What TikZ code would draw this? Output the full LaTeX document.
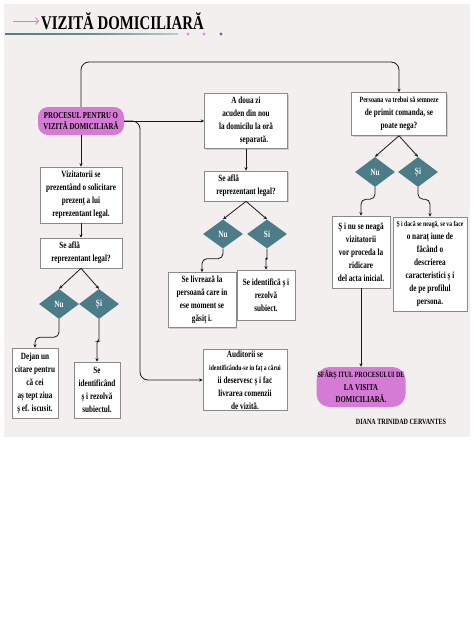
\documentclass[tikz,border=0pt]{standalone}
\usepackage{fontspec}
\setmainfont{Liberation Serif}[FakeStretch=0.76]
\usetikzlibrary{shapes.geometric,arrows.meta,shadows,calc}
\definecolor{bgc}{HTML}{F3EFEE}
\definecolor{pinkn}{HTML}{D57AD5}
\definecolor{teald}{HTML}{4B7C87}
\definecolor{boxl}{HTML}{8A8A8A}
\definecolor{lineA}{HTML}{4F7F80}
\definecolor{lineB}{HTML}{B9D0CC}
\definecolor{dotB}{HTML}{5A6E9A}
\begin{document}
\begin{tikzpicture}[x=1pt,y=-1pt,
  box/.style={draw=boxl, line width=0.6pt, fill=white, inner sep=1pt, align=center,
    font=\fontsize{9.5}{13}\selectfont\bfseries,
    drop shadow={shadow xshift=1pt, shadow yshift=-1pt, fill=black!25, opacity=0.7}},
  pillbox/.style={fill=pinkn, rounded corners=10pt, inner sep=1pt, align=center,
    font=\fontsize{9}{11.5}\selectfont\bfseries},
  choice/.style={diamond, fill=teald, minimum width=40pt, minimum height=30pt, inner sep=0pt,
    text=white, font=\fontsize{9.5}{9.5}\selectfont\bfseries},
  conn/.style={line width=0.8pt, draw=black!90},
  arr/.style={conn, -{Stealth[length=3.5pt,width=3.2pt]}}]
\useasboundingbox (0,0) rectangle (474,632);
\fill[bgc] (4,4) rectangle (470,437);

% title
\coordinate (ta) at (13,21);
\coordinate (tb) at (39,21);
\draw[pinkn, line width=0.8pt, -{Straight Barb[length=3pt,width=7pt]}] (ta) -- (tb);
\node[anchor=west, inner sep=0pt, font=\fontsize{19.5}{19.5}\selectfont\bfseries] (title) at (41,21) {VIZITĂ DOMICILIARĂ};
\shade[left color=lineA, right color=lineB, middle color=lineA!80!lineB] (5,33.3) rectangle (178,34.9);
\fill[pinkn!85] (188,34) circle (1.7);
\fill[pinkn!85] (204,34) circle (1.7);
\fill[dotB] (221,34) circle (1.7);

% left column
\node[pillbox, minimum width=86pt, minimum height=28pt] (start) at (81,121) {PROCESUL PENTRU O\\VIZITĂ DOMICILIARĂ};
\node[box, minimum width=82pt, minimum height=56pt] (b1) at (81,195) {Vizitatorii se\\prezentând o solicitare\\prezenț a lui\\reprezentant legal.};
\node[box, minimum width=82pt, minimum height=30pt, align=left] (b2) at (81,253) {\hspace*{8pt}Se află\\reprezentant legal?};
\node[choice] (nu1) at (59,304) {Nu};
\node[choice] (si1) at (99,304) {Și};
\node[box, minimum width=46pt, minimum height=70pt] (b3) at (35,383) {Dejan un\\citare pentru\\că cei\\aș tept ziua\\ș ef. iscusit.};
\node[box, minimum width=46pt, minimum height=56pt] (b4) at (97,390) {Se\\identificând\\ș i rezolvă\\subiectul.};

% middle column
\node[box, minimum width=83pt, minimum height=55pt] (m1) at (246,121) {A doua zi\\acuden din nou\\la domicilu la oră\\\hspace*{16pt}separată.};
\node[box, minimum width=83pt, minimum height=30pt, align=left] (m2) at (246,186) {\hspace*{2pt}Se află\\reprezentant legal?};
\node[choice, minimum height=29pt] (nu2) at (223,234) {Nu};
\node[choice, minimum height=29pt] (si2) at (267,234) {Si};
\node[box, minimum width=68pt, minimum height=55pt] (m3) at (202,300) {Se livrează la\\persoană care in\\ese moment se\\găsiț i.};
\node[box, minimum width=58pt, minimum height=50pt] (m4) at (266,295) {Se identifică ș i\\rezolvă\\subiect.};
\node[box, minimum width=84pt, minimum height=56pt] (m5) at (245,380) {Auditorii se\\{\fontsize{7.5}{13}\selectfont identificându-se in faț a cărui}\\ii deservesc ș i fac\\livrarea comenzii\\de vizită.};

% right column
\node[box, minimum width=95pt, minimum height=43pt] (r1) at (399,114) {{\fontsize{8}{13}\selectfont Persoana va trebui să semneze}\\de primit comanda, se\\poate nega?};
\node[choice] (nu3) at (375,172) {Nu};
\node[choice] (si3) at (418,172) {Și};
\node[box, minimum width=58pt, minimum height=72pt] (r2) at (361,252) {Ș i nu se neagă\\vizitatorii\\vor proceda la\\ridicare\\del acta inicial.};
\node[box, minimum width=74pt, minimum height=94pt] (r3) at (430,264) {{\fontsize{7.5}{13}\selectfont Ș i dacă se neagă, se va face}\\o naraț iune de\\făcând o\\descrierea\\caracteristici ș i\\de pe profilul\\persona.};
\node[pillbox, rounded corners=13pt, minimum width=84pt, minimum height=40pt, font=\fontsize{9}{12.5}\selectfont\bfseries] (endn) at (361,387) {{\fontsize{8}{12.5}\selectfont SFÂRȘ ITUL PROCESULUI DE}\\LA VISITA\\DOMICILIARĂ.};
\node[inner sep=0pt, font=\fontsize{8}{8}\selectfont\bfseries] (author) at (401,422) {DIANA TRINIDAD CERVANTES};

% connectors
\coordinate (topy) at (0,62);
\coordinate (br) at (140,121);
\draw[arr, rounded corners=8pt] (start.north) |- (r1.north |- topy) -- (r1.north);
\draw[arr] (start.east) -- (m1.west);
\draw[arr, rounded corners=8pt] (start.east) -- (br) |- (m5.west);
\draw[arr] (start.south) -- (b1.north);
\draw[arr] (b1.south) -- (b2.north);
\draw[arr] (b2.south) -- (nu1.north);
\draw[arr] (b2.south) -- (si1.north);
\draw[arr, rounded corners=5pt] (nu1.south) -- ++(0,18) -| (b3.north);
\draw[arr, rounded corners=2pt] (si1.south) -- ++(0,22) -| (b4.north);
\draw[arr] (m1.south) -- (m2.north);
\draw[arr] (m2.south) -- (nu2.north);
\draw[arr] (m2.south) -- (si2.north);
\draw[arr, rounded corners=5pt] (nu2.south) -- ++(0,10) -| (m3.north);
\draw[arr, rounded corners=1pt] (si2.south) -- ++(0,10) -| (m4.north);
\draw[arr] (r1.south) -- (nu3.north);
\draw[arr] (r1.south) -- (si3.north);
\draw[arr, rounded corners=5pt] (nu3.south) -- ++(0,12) -| (r2.north);
\draw[arr, rounded corners=5pt] (si3.south) -- ++(0,12) -| (r3.north);
\draw[arr] (r2.south) -- (endn.north);
\end{tikzpicture}
\end{document}
